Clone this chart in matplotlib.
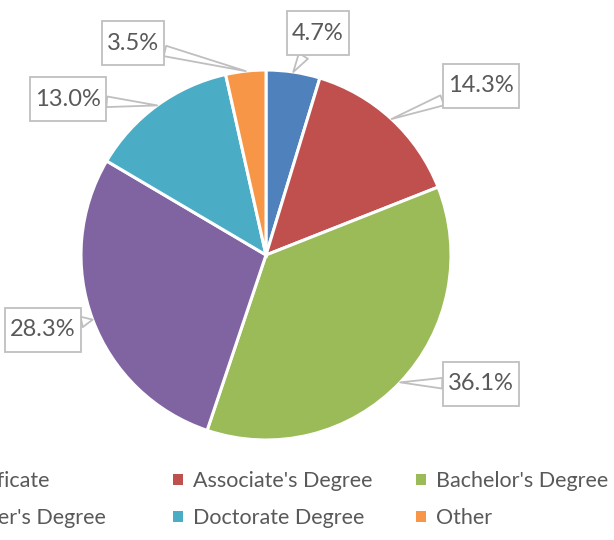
import matplotlib.pyplot as plt
import numpy as np
from matplotlib.patches import Patch
from matplotlib.path import Path

# Education level shares (pie, clockwise from 12 o'clock)
categories = ["Certificate", "Associate's Degree", "Bachelor's Degree",
              "Master's Degree", "Doctorate Degree", "Other"]
shares = [4.7, 14.3, 36.1, 28.3, 13.0, 3.5]
colors = ["#4F81BD", "#C0504D", "#9BBB59", "#8064A2", "#4BACC6", "#F79646"]

# label box centres, pixels from the top-left corner
label_pos = [(318, 33), (481, 86), (481, 384), (43, 330), (68, 99), (133, 43)]

W, H = 614, 540
text_grey = "#595959"
box_grey = "#BFBFBF"

plt.rcParams['font.family'] = ['Lato', 'DejaVu Sans']


def label_box(x0, y0, width, height, mutation_size, padx=0.22, pady=0.5):
    # plain rectangle, but with less padding left/right than top/bottom
    px, py = padx * mutation_size, pady * mutation_size
    x0, y0 = x0 - px, y0 - py
    x1, y1 = x0 + width + 2 * px, y0 + height + 2 * py
    return Path([(x0, y0), (x1, y0), (x1, y1), (x0, y1), (x0, y0)], closed=True)


fig = plt.figure(figsize=(W / 100, H / 100), dpi=100)
ax = fig.add_axes([0, 0, 1, 1])
wedges, _ = ax.pie(shares, colors=colors, startangle=90, counterclock=False,
                   center=(266, H - 255), radius=185,
                   wedgeprops=dict(edgecolor='white', linewidth=2.2))
ax.set_xlim(0, W)
ax.set_ylim(0, H)
ax.set_aspect('equal')
ax.axis('off')

# callout labels pointing at each slice's outer edge
for w, val, (bx, by) in zip(wedges, shares, label_pos):
    mid = np.deg2rad((w.theta1 + w.theta2) / 2)
    tip = (w.center[0] + w.r * np.cos(mid), w.center[1] + w.r * np.sin(mid))
    ax.annotate(f"{val:.1f}%", xy=tip, xytext=(bx, H - by),
                ha='center', va='center', fontsize=17, color=text_grey,
                bbox=dict(boxstyle=label_box, fc='white', ec=box_grey, lw=1.3),
                arrowprops=dict(arrowstyle='wedge,tail_width=0.45', fc='white',
                                ec=box_grey, lw=1.3, shrinkA=0, shrinkB=0))

# legend: 3 equal-width columns, first one runs off the left edge
handles = [Patch(facecolor=c) for c in colors]
col_x = [-70, 173, 416]
for i, x in enumerate(col_x):
    idx = [i, i + 3]
    fig.legend([handles[j] for j in idx], [categories[j] for j in idx],
               loc='upper left', bbox_to_anchor=(x / W, 1 - 471 / H),
               frameon=False, fontsize=15.5, handlelength=0.45, handleheight=0.45,
               handletextpad=0.5, labelspacing=0.8, borderpad=0, borderaxespad=0,
               labelcolor=text_grey)

fig.savefig("out.png", dpi=100)
